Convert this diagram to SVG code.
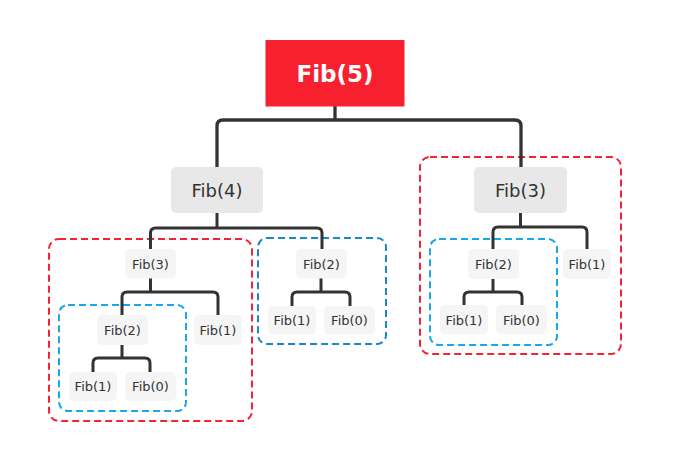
<svg xmlns="http://www.w3.org/2000/svg" width="689" height="460" viewBox="0 0 689 460">
<style>
.red{fill:none;stroke:#F42333;stroke-width:2;stroke-dasharray:7 4}
.blue{fill:none;stroke:#1AA6EC;stroke-width:2;stroke-dasharray:7 4}
.blue2{fill:none;stroke:#1A86CC;stroke-width:2;stroke-dasharray:7 4}
.c{fill:none;stroke:#333333;stroke-width:3;stroke-linejoin:round}
.c1{fill:none;stroke:#333333;stroke-width:3.3;stroke-linejoin:round}
.n1{fill:#E8E8E8}
.n2{fill:#F5F5F5}
.t{font-family:"DejaVu Sans","Open Sans",sans-serif;fill:#333333;text-anchor:middle;dominant-baseline:central}
.t1{font-size:18px}
.t2{font-size:13px}
</style>
<rect width="689" height="460" fill="#FFFFFF"/>
<g id="groups">
<rect class="red" x="420" y="157" width="201" height="197" rx="10"/>
<rect class="red" x="49" y="239" width="203" height="182" rx="10"/>
<rect class="blue" x="430" y="239" width="127" height="106" rx="9"/>
<rect class="blue" x="59" y="305" width="127" height="106" rx="9"/>
<rect class="blue2" x="258" y="238" width="128" height="106" rx="9"/>
</g>
<g id="connectors">
<path class="c1" d="M335 106 V120 M217 167 V126 Q217 120 223 120 H515 Q521 120 521 126 V167"/>
<path class="c" d="M217 213 V228 M150.5 249 V233 Q150.5 228 155.5 228 H317 Q322 228 322 233 V249"/>
<path class="c" d="M520.5 213 V227 M493 249 V232 Q493 227 498 227 H582 Q587 227 587 232 V249"/>
<path class="c" d="M150.5 278 V292 M122 315 V297 Q122 292 127 292 H213 Q218 292 218 297 V315"/>
<path class="c" d="M122 345 V358 M93 372 V363 Q93 358 98 358 H145 Q150 358 150 363 V372"/>
<path class="c" d="M321 278 V292 M292 306 V297 Q292 292 297 292 H345 Q350 292 350 297 V306"/>
<path class="c" d="M493 279 V292 M464 305 V297 Q464 292 469 292 H517 Q522 292 522 297 V305"/>
</g>
<g id="fib5">
<rect x="265.5" y="40" width="139" height="66.5" fill="#F7202F"/>
<text x="335" y="74" class="t" style="fill:#FFFFFF;font-size:23px;font-weight:bold">Fib(5)</text>
</g>
<g id="fib4">
<rect class="n1" x="171" y="167" width="92" height="46" rx="5"/>
<text x="217" y="190" class="t t1">Fib(4)</text>
</g>
<g id="fib3r">
<rect class="n1" x="474" y="167" width="93" height="46" rx="5"/>
<text x="520.5" y="190" class="t t1">Fib(3)</text>
</g>
<g id="fib3l">
<rect class="n2" x="125" y="249" width="51" height="29.5" rx="5"/>
<text x="150.5" y="264" class="t t2">Fib(3)</text>
</g>
<g id="fib2m">
<rect class="n2" x="296" y="249" width="51" height="29.5" rx="5"/>
<text x="321.5" y="264" class="t t2">Fib(2)</text>
</g>
<g id="fib2r">
<rect class="n2" x="468" y="249" width="51" height="30" rx="5"/>
<text x="493.5" y="264" class="t t2">Fib(2)</text>
</g>
<g id="fib1r">
<rect class="n2" x="563" y="249" width="48" height="30" rx="5"/>
<text x="587" y="264" class="t t2">Fib(1)</text>
</g>
<g id="fib2l">
<rect class="n2" x="97" y="315" width="51" height="30" rx="5"/>
<text x="122.5" y="330" class="t t2">Fib(2)</text>
</g>
<g id="fib1l">
<rect class="n2" x="194" y="315" width="48" height="30" rx="5"/>
<text x="218" y="330" class="t t2">Fib(1)</text>
</g>
<g id="fib1m">
<rect class="n2" x="268" y="306" width="48" height="28.5" rx="5"/>
<text x="292" y="320" class="t t2">Fib(1)</text>
</g>
<g id="fib0m">
<rect class="n2" x="324" y="306" width="51" height="28.5" rx="5"/>
<text x="349.5" y="320" class="t t2">Fib(0)</text>
</g>
<g id="fib1rr">
<rect class="n2" x="440" y="305" width="48" height="29.5" rx="5"/>
<text x="464" y="320" class="t t2">Fib(1)</text>
</g>
<g id="fib0rr">
<rect class="n2" x="496" y="305" width="51" height="29.5" rx="5"/>
<text x="521.5" y="320" class="t t2">Fib(0)</text>
</g>
<g id="fib1ll">
<rect class="n2" x="69" y="372" width="48" height="29" rx="5"/>
<text x="93" y="386" class="t t2">Fib(1)</text>
</g>
<g id="fib0ll">
<rect class="n2" x="125" y="372" width="51" height="29" rx="5"/>
<text x="150.5" y="386" class="t t2">Fib(0)</text>
</g>
</svg>
